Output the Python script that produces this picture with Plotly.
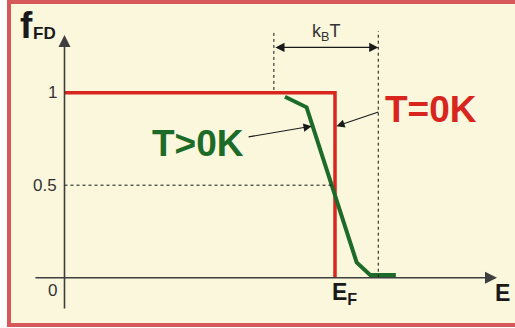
import plotly.graph_objects as go

# Energy in units of the Fermi energy (E_F = 1), occupation f_FD
E_F = 1.0
kT_left, kT_right = 0.774, 1.160

# Step function at T = 0 K
t0_E = [0.0, E_F, E_F]
t0_f = [1.0, 1.0, 0.0]

# Smeared distribution at T > 0 K
tpos_E = [0.815, 0.895, 1.080, 1.130, 1.225]
tpos_f = [0.978, 0.921, 0.083, 0.015, 0.015]

tick_vals = [1.0, 0.5, 0.0]
tick_text = ["1", "0.5", "0"]

FONT = "Liberation Sans, Arial, Helvetica, sans-serif"
RED = "#D8261E"
GREEN = "#1D6B28"
AXIS = "#3f3f3f"
INK = "#1a1a1a"
FRAME = "#D6585B"
PANEL = "#FAF7DC"

fig = go.Figure()

fig.add_trace(go.Scatter(x=t0_E, y=t0_f, mode="lines",
                         line=dict(color=RED, width=3.5), hoverinfo="skip"))
fig.add_trace(go.Scatter(x=tpos_E, y=tpos_f, mode="lines",
                         line=dict(color=GREEN, width=4), hoverinfo="skip"))

# Dashed guide lines
dash = dict(color="#111111", width=1, dash="3px,3px")
fig.update_layout(shapes=[
    dict(type="line", x0=0, x1=0.992, y0=0.5, y1=0.5, line=dash),
    dict(type="line", x0=kT_left, x1=kT_left, y0=1.015, y1=1.333, line=dash),
    dict(type="line", x0=kT_right, x1=kT_right, y0=0.0, y1=1.333, line=dash),
])

ann = []
# Axes with arrowheads
ann.append(dict(x=1.599, y=0, ax=-0.113, ay=0, xref="x", yref="y", axref="x", ayref="y",
                showarrow=True, arrowhead=2, arrowsize=1.5, arrowwidth=1.6,
                arrowcolor=AXIS, text=""))
ann.append(dict(x=0, y=1.312, ax=0, ay=-0.174, xref="x", yref="y", axref="x", ayref="y",
                showarrow=True, arrowhead=2, arrowsize=1.5, arrowwidth=1.6,
                arrowcolor=AXIS, text=""))
# k_B T span
ann.append(dict(x=kT_right, y=1.245, ax=kT_left, ay=1.245, xref="x", yref="y",
                axref="x", ayref="y", showarrow=True, arrowhead=2, startarrowhead=2,
                arrowside="end+start", arrowsize=1.4, startarrowsize=1.4,
                arrowwidth=1.3, arrowcolor=INK, text=""))
ann.append(dict(x=(kT_left + kT_right) / 2, y=1.328, xref="x", yref="y", showarrow=False,
                text="k<sub>B</sub>T", font=dict(family=FONT, size=18, color="#333333")))
# Pointer arrows for the curve labels
ann.append(dict(x=1.005, y=0.819, ax=1.166, ay=0.898, xref="x", yref="y",
                axref="x", ayref="y", showarrow=True, arrowhead=2, arrowsize=1.5,
                arrowwidth=1.1, arrowcolor=INK, text=""))
ann.append(dict(x=0.914, y=0.819, ax=0.675, ay=0.760, xref="x", yref="y",
                axref="x", ayref="y", showarrow=True, arrowhead=2, arrowsize=1.5,
                arrowwidth=1.1, arrowcolor=INK, text=""))
# Curve labels
ann.append(dict(x=1.355, y=0.907, xref="x", yref="y", showarrow=False, text="<b>T=0K</b>",
                font=dict(family=FONT, size=37, color=RED)))
ann.append(dict(x=0.494, y=0.725, xref="x", yref="y", showarrow=False, text="<b>T&gt;0K</b>",
                font=dict(family=FONT, size=37, color=GREEN)))
# Tick labels on the vertical axis
for v, t in zip(tick_vals, tick_text):
    yy = v if v > 0 else -0.071
    ann.append(dict(x=-0.02, y=yy, xref="x", yref="y", xanchor="right", showarrow=False,
                    text=t, font=dict(family=FONT, size=17, color="#333333")))
# Axis titles
ann.append(dict(x=-0.142, y=1.365, xref="x", yref="y", showarrow=False, text="<b>f</b>",
                font=dict(family=FONT, size=37, color=INK)))
ann.append(dict(x=-0.075, y=1.322, xref="x", yref="y", showarrow=False, text="<b>FD</b>",
                font=dict(family=FONT, size=17, color=INK)))
ann.append(dict(x=E_F + 0.035, y=-0.085, xref="x", yref="y", showarrow=False,
                text="<b>E<sub>F</sub></b>", font=dict(family=FONT, size=23, color=INK)))
ann.append(dict(x=1.62, y=-0.085, xref="x", yref="y", showarrow=False,
                text="<b>E</b>", font=dict(family=FONT, size=23, color=INK)))
fig.update_layout(annotations=ann)

# The cream panel is the plot area; its frame (left, top, bottom) comes from the axis lines
fig.update_layout(
    width=515, height=328,
    margin=dict(l=11, r=0, t=4, b=5),
    paper_bgcolor="white", plot_bgcolor=PANEL,
    showlegend=False,
    xaxis=dict(range=[-0.19778, 1.66544], fixedrange=True, showgrid=False,
               zeroline=False, showticklabels=False, ticks="",
               showline=True, mirror=True, linecolor=FRAME, linewidth=3.5),
    yaxis=dict(range=[-0.24486, 1.47946], fixedrange=True, showgrid=False,
               zeroline=False, showticklabels=False, ticks="",
               showline=True, mirror=False, linecolor=FRAME, linewidth=3.5),
)

fig.write_html("out.html", config={"displayModeBar": False})
